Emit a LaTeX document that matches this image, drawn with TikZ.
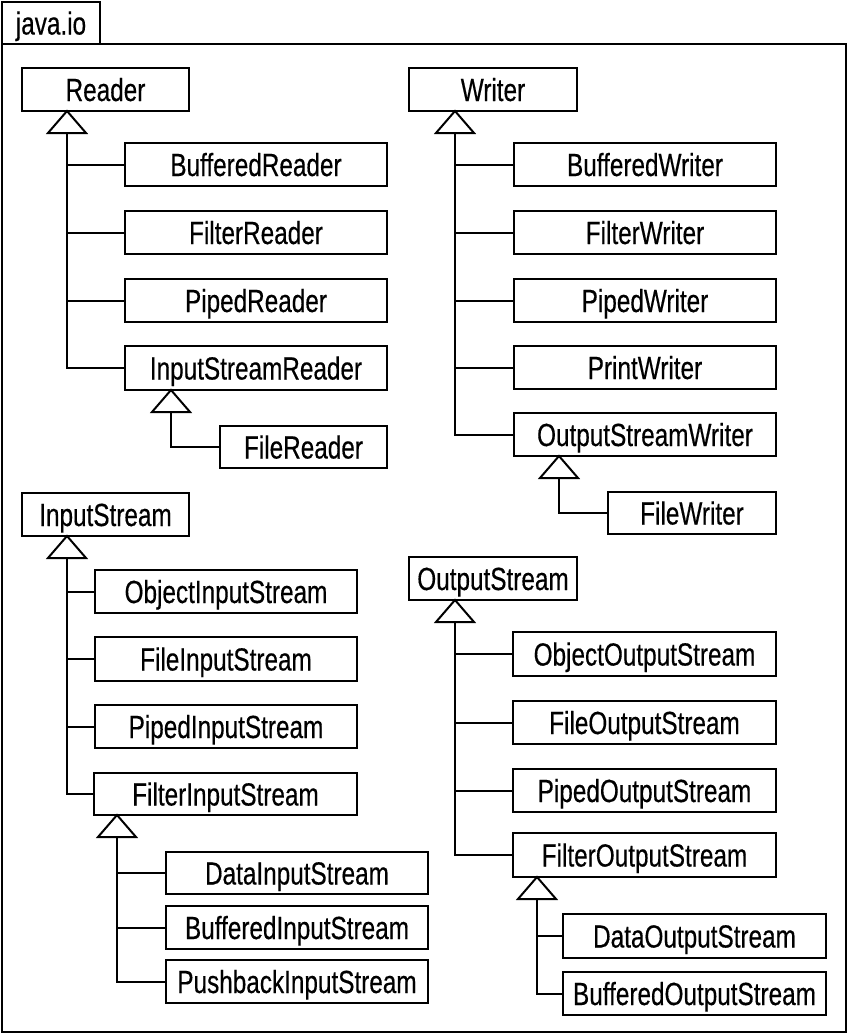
\documentclass[tikz,border=0pt]{standalone}
\usepackage{fontspec}
\setmainfont{Liberation Sans}[FakeStretch=0.76,FakeBold=0.4]
\begin{document}
\begin{tikzpicture}[x=1pt,y=-1pt,line width=2pt,
  cls/.style={draw,rectangle,inner sep=0pt,outer sep=0pt,
    font=\fontsize{32}{38}\selectfont,text height=23pt,text depth=0pt},
  tri/.style={fill=white,line join=miter},
  frame/.style={line width=2pt}]
\useasboundingbox (0,0) rectangle (848,1034);
\newcommand\classbox[6]{\node[cls,minimum width={#4-#2},minimum height={#5-#3}] (#1) at ({(#2+#4)/2},{(#3+#5)/2}) {#6};}
\newcommand\genlink[4]{%
  \coordinate (#4) at (#2,0);
  \draw[tri] (#1.south -| #4) -- ++(-19,22) -- ++(38,0) -- cycle;
  \draw (#1.south -| #4) ++(0,22) |- (#3.west);}
\newcommand\sublink[2]{\draw (#1.west -| #2) -- (#1.west);}
% frame
\draw[frame] (2,44) rectangle (846,1032);
\node[draw,frame,anchor=south west,minimum width=98,minimum height=42,inner sep=0pt,outer sep=0pt,
  font=\fontsize{32}{38}\selectfont,text height=23pt,text depth=0pt] (tab) at (2,44) {java.io};
% Reader
\classbox{reader}{22}{68}{189}{111}{Reader}
\classbox{bufr}{125}{143}{387}{186}{BufferedReader}
\classbox{filr}{125}{211}{387}{254}{FilterReader}
\classbox{pipr}{125}{279}{387}{322}{PipedReader}
\classbox{isr}{125}{346}{387}{390}{InputStreamReader}
\classbox{filer}{220}{426}{387}{468}{FileReader}
\genlink{reader}{67}{isr}{rv}
\sublink{bufr}{rv}\sublink{filr}{rv}\sublink{pipr}{rv}
\genlink{isr}{171}{filer}{isrv}
% Writer
\classbox{writer}{409}{68}{577}{111}{Writer}
\classbox{bufw}{514}{143}{776}{186}{BufferedWriter}
\classbox{filw}{514}{211}{776}{254}{FilterWriter}
\classbox{pipw}{514}{279}{776}{322}{PipedWriter}
\classbox{prw}{514}{346}{776}{389}{PrintWriter}
\classbox{osw}{514}{413}{776}{456}{OutputStreamWriter}
\classbox{filew}{608}{492}{776}{534}{FileWriter}
\genlink{writer}{455}{osw}{wv}
\sublink{bufw}{wv}\sublink{filw}{wv}\sublink{pipw}{wv}\sublink{prw}{wv}
\genlink{osw}{559}{filew}{oswv}
% InputStream
\classbox{is}{22}{493}{189}{536}{InputStream}
\classbox{ois}{95}{570}{357}{613}{ObjectInputStream}
\classbox{fis}{95}{637}{357}{681}{FileInputStream}
\classbox{pis}{95}{705}{357}{748}{PipedInputStream}
\classbox{filis}{94}{773}{357}{815}{FilterInputStream}
\classbox{dis}{166}{852}{428}{894}{DataInputStream}
\classbox{bis}{166}{906}{428}{949}{BufferedInputStream}
\classbox{pbis}{166}{960}{428}{1003}{PushbackInputStream}
\genlink{is}{67}{filis}{isv}
\sublink{ois}{isv}\sublink{fis}{isv}\sublink{pis}{isv}
\genlink{filis}{117}{pbis}{filisv}
\sublink{dis}{filisv}\sublink{bis}{filisv}
% OutputStream
\classbox{os}{409}{557}{577}{600}{OutputStream}
\classbox{oos}{513}{632}{776}{676}{ObjectOutputStream}
\classbox{fos}{513}{701}{776}{744}{FileOutputStream}
\classbox{pos}{513}{769}{776}{812}{PipedOutputStream}
\classbox{filos}{513}{833}{776}{877}{FilterOutputStream}
\classbox{dos}{563}{914}{826}{958}{DataOutputStream}
\classbox{bos}{563}{972}{826}{1015}{BufferedOutputStream}
\genlink{os}{455}{filos}{osv}
\sublink{oos}{osv}\sublink{fos}{osv}\sublink{pos}{osv}
\genlink{filos}{537}{bos}{filosv}
\sublink{dos}{filosv}
\end{tikzpicture}
\end{document}
